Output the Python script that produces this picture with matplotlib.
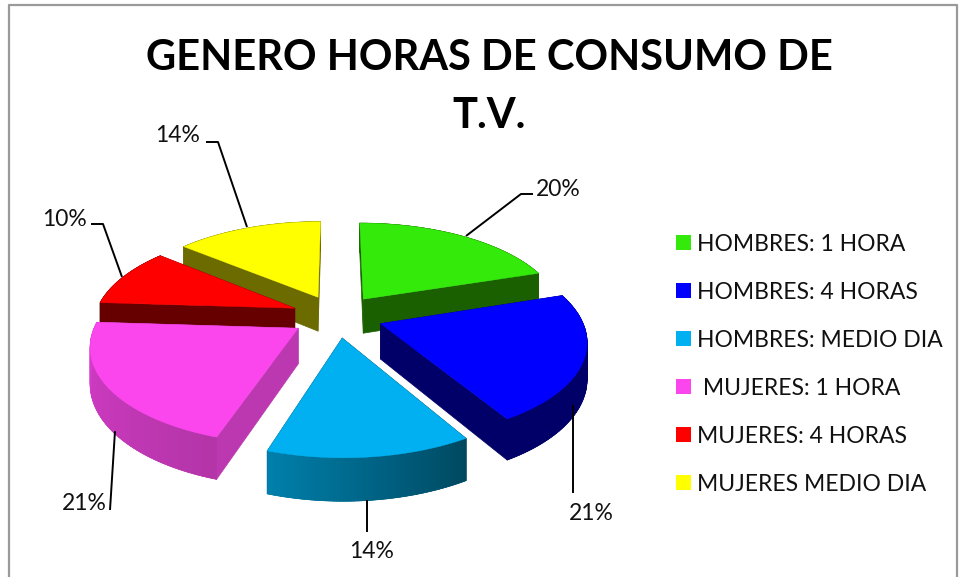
# pastel 3D explotado de consumo de T.V.
import matplotlib
matplotlib.use("Agg")
import matplotlib.pyplot as plt
from matplotlib.collections import PolyCollection
from matplotlib.colors import to_rgb
from matplotlib.patches import Rectangle
import numpy as np

categorias = ["HOMBRES: 1 HORA", "HOMBRES: 4 HORAS", "HOMBRES: MEDIO DIA",
	" MUJERES: 1 HORA", "MUJERES: 4 HORAS", "MUJERES MEDIO DIA"]
# valores estimados del dibujo, las etiquetas van redondeadas
valores = [20.0, 21.5, 13.5, 21.0, 10.0, 14.0]
etiquetas = ["20%", "21%", "14%", "21%", "10%", "14%"]
colores = ["#33EA0A", "#0000FF", "#00B0F0", "#FA46EC", "#FF0000", "#FFFF00"]
# color de la pared: inicio y fin del borde, y pared radial
pared_ini = ["#1A6000", "#000068", "#004860", "#B435A8", "#660000", "#6B6B00"]
pared_fin = ["#1A6000", "#000068", "#0080AC", "#D83CCC", "#660000", "#6B6B00"]
pared_rad = ["#1A6000", "#000068", "#004860", "#BC38B0", "#660000", "#6B6B00"]
titulo = ["GENERO HORAS DE CONSUMO DE", "T.V."]

# parametros de la proyeccion, en pixeles
CX, CY = 337, 316
RX, RY = 200, 93
K = 0.158
EXPLODE = 0.23
PROF = 35


def proyecta(x, y, z=0):
	w = 1 + K * y
	return np.column_stack((CX + RX * x / w, CY - RY * y / w + PROF * z / w))


plt.rcParams["font.family"] = ["Lato", "DejaVu Sans"]
fig = plt.figure(figsize=(9.61, 5.77), dpi=100)
ax = fig.add_axes([0, 0, 1, 1])
ax.set_xlim(0, 961)
ax.set_ylim(577, 0)
ax.axis("off")

# marco del grafico
ax.plot([9, 9, 957, 957], [577, 5, 5, 577], color="#9A9A9A", lw=1.6)

fracs = np.array(valores) / sum(valores)
ini = np.concatenate(([0], np.cumsum(fracs)[:-1])) * 2 * np.pi
fin = np.cumsum(fracs) * 2 * np.pi
# de atras hacia adelante
orden = [5, 0, 4, 1, 3, 2]

for i in orden:
	med = (ini[i] + fin[i]) / 2
	ox, oy = EXPLODE * np.sin(med), EXPLODE * np.cos(med)
	t = np.linspace(ini[i], fin[i], 60)
	x = ox + np.sin(t)
	y = oy + np.cos(t)
	arriba = proyecta(x, y)
	abajo = proyecta(x, y, 1)
	ap_arr = proyecta(np.array([ox]), np.array([oy]))
	ap_aba = proyecta(np.array([ox]), np.array([oy]), 1)

	# paredes radiales
	rad = [np.vstack((ap_arr, arriba[0], abajo[0], ap_aba)),
		np.vstack((ap_arr, arriba[-1], abajo[-1], ap_aba))]
	ax.add_collection(PolyCollection(rad, facecolors=pared_rad[i], edgecolors=pared_rad[i], lw=0.5))

	# borde exterior: primero un fondo entero para que no queden rayas
	c0, c1 = np.array(to_rgb(pared_ini[i])), np.array(to_rgb(pared_fin[i]))
	ax.fill(*np.vstack((arriba, abajo[::-1])).T, color=(c0 + c1) / 2, lw=0.3)
	quads, cols = [], []
	for j in range(len(t) - 1):
		quads.append(np.vstack((arriba[j], arriba[j + 1], abajo[j + 1], abajo[j])))
		cols.append(c0 + (c1 - c0) * j / (len(t) - 2))
	ax.add_collection(PolyCollection(quads, facecolors=cols, edgecolors=cols, lw=0.5))

	# cara superior
	ax.fill(*np.vstack((ap_arr, arriba)).T, color=colores[i], lw=0.3)

# lineas guia
guias = [[(466, 236), (521, 194), (533, 194)],
	[(573, 405), (573, 493)],
	[(367, 500), (367, 532)],
	[(115, 431), (110, 510)],
	[(122, 277), (103, 224), (91, 224)],
	[(247, 227), (218, 142), (206, 142)]]
for g in guias:
	ax.plot(*zip(*g), color="black", lw=1.4, solid_capstyle="butt")

# etiquetas de porcentaje
pos_etq = [(558, 189), (591, 513), (372, 552), (84, 504), (64, 219), (178, 136)]
for (px, py), txt in zip(pos_etq, etiquetas):
	ax.text(px, py, txt, fontsize=16.5, ha="center", va="center", color="#111111")

for ty, linea in zip([58, 116], titulo):
	ax.text(489, ty, linea, fontsize=30, fontweight="bold", ha="center", va="center", color="black")

# leyenda
ley_y = [243, 291, 339, 387, 435, 483]
for nombre, col, ly in zip(categorias, colores, ley_y):
	ax.add_patch(Rectangle((676, ly - 8), 15, 15, facecolor=col, edgecolor="none"))
	ax.text(697, ly + 1.5, nombre, fontsize=16.5, ha="left", va="center", color="#111111")

fig.savefig("out.png", dpi=100)
